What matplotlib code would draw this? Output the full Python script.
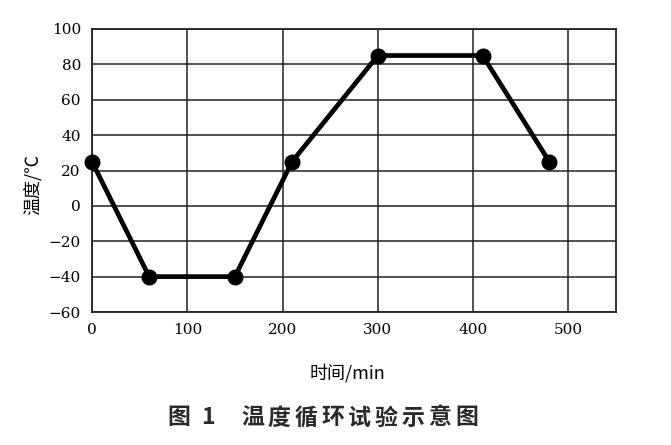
import matplotlib
matplotlib.use("Agg")
import matplotlib.pyplot as plt

time_min = [0, 60, 150, 210, 300, 410, 480]
temp_c = [25, -40, -40, 25, 85, 85, 25]
x_ticks = [0, 100, 200, 300, 400, 500]
y_ticks = [-60, -40, -20, 0, 20, 40, 60, 80, 100]

x_label = '时间/min'
y_label = '温度/℃'
caption_prefix = ['图', '1']
caption_title = '温度循环试验示意图'

cjk = ['Noto Sans CJK SC', 'DejaVu Sans']
W, H = 671, 445

fig = plt.figure(figsize=(W / 100, H / 100), dpi=100)
ax = fig.add_axes([92 / W, 1 - 312 / H, (616 - 92) / W, (312 - 29) / H])

ax.plot(time_min, temp_c, color='black', lw=3.4, marker='o', ms=10.5, zorder=3, clip_on=False)
ax.set_xlim(0, 550)
ax.set_ylim(-60, 100)
ax.set_xticks(x_ticks)
ax.set_yticks(y_ticks)
ax.set_xticklabels([str(v) for v in x_ticks], family='DejaVu Serif', fontsize=11)
ax.set_yticklabels([str(v).replace('-', '\u2212') for v in y_ticks], family='DejaVu Serif', fontsize=11)
ax.tick_params(axis='y', length=0, pad=8)
ax.tick_params(axis='x', length=0, pad=8)
ax.grid(True, color='#222222', lw=1.1)
for s in ax.spines.values():
    s.set_linewidth(1.3)
    s.set_color('#222222')

fig.text(33 / W, 1 - 184 / H, y_label, family=cjk, fontsize=13, rotation=90,
         ha='center', va='center')
fig.text(347 / W, 1 - 373 / H, x_label, family=cjk, fontsize=13, ha='center', va='center')

# caption, character by character to mimic the wide spacing
cy = 1 - 418 / H
cap_kw = dict(family=cjk, fontsize=16.5, weight='bold', ha='center', va='center', color='#2a2a2a')
fig.text(179 / W, cy, caption_prefix[0], **cap_kw)
fig.text(207.5 / W, cy, caption_prefix[1], **cap_kw)
pitch = 26.75
for i, ch in enumerate(caption_title):
    fig.text((252.5 + i * pitch) / W, cy, ch, **cap_kw)

fig.savefig('out.png', dpi=100)
